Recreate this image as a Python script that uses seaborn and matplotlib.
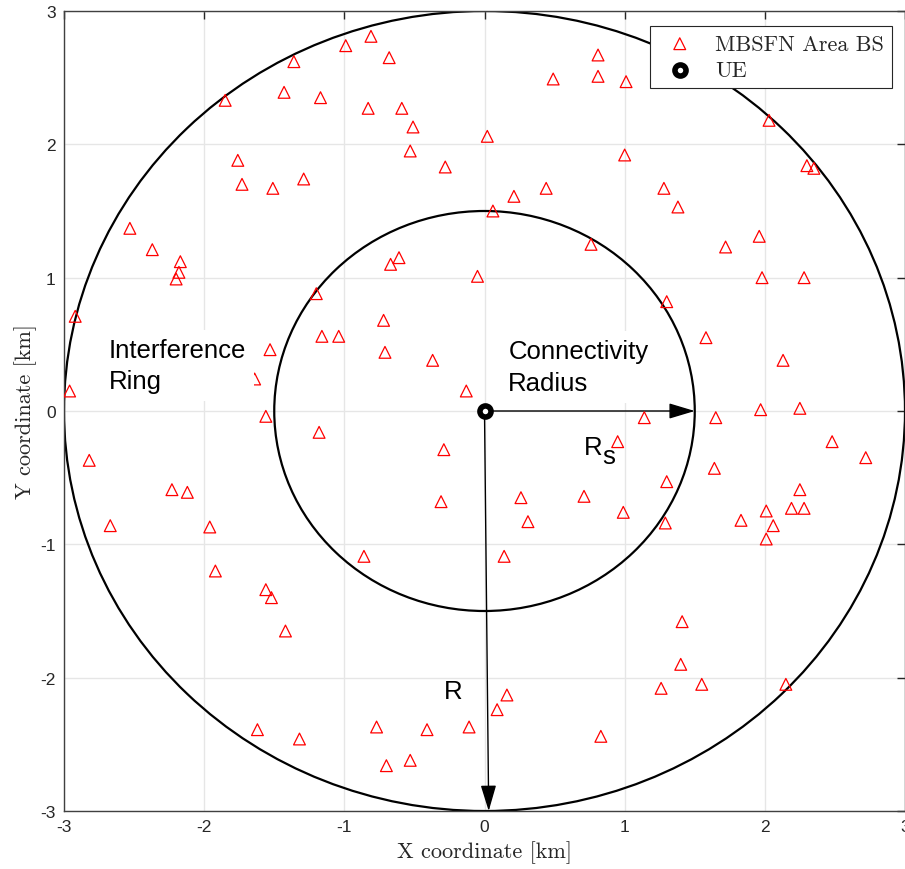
import numpy as np
import pandas as pd
import seaborn as sns
import matplotlib.pyplot as plt
from matplotlib.patches import Circle

# base station positions (km)
bs_x = [-0.81, -0.99, -0.68, -1.36, -1.43, -1.85, -1.17, -0.83, -0.59, -0.51, -0.53,
        -0.28, 0.02, -1.76, -1.73, -1.51, -1.29, -2.53, -2.37, -2.17, -2.18, -2.20,
        0.49, 0.81, 0.81, 1.01, 1.00, 1.28, 0.44, 0.21, 0.06, 0.76, 1.38, 1.72, 1.96,
        1.98, 2.30, 2.35, 2.03, 2.28,
        1.30, 1.58, 2.13, 1.97, 2.25, 2.48, 2.72, 1.65, 1.14, 0.95, 1.64, 1.30, 1.29,
        0.99, 1.83, 2.25, 2.19, 2.28, 2.01, 2.06, 2.01,
        1.41, 1.40, 1.55, 1.26, 2.15, 0.83,
        -1.20, -0.72, -1.16, -1.04, -1.53, -0.71, -0.37, -0.13, -0.05, -0.61, -0.67,
        -1.64, -1.56, -1.18, -0.29, -0.31, 0.26, 0.31, 0.71, 0.14, -0.86,
        -2.92, -2.96, -2.82, -2.67, -2.23, -2.12, -1.96, -1.92, -1.56, -1.52, -1.42,
        -1.62, -1.32,
        -0.77, -0.70, -0.53, -0.41, -0.11, 0.09, 0.16]
bs_y = [2.81, 2.74, 2.65, 2.62, 2.39, 2.33, 2.35, 2.27, 2.27, 2.13, 1.95,
        1.83, 2.06, 1.88, 1.70, 1.67, 1.74, 1.37, 1.21, 1.12, 1.04, 0.99,
        2.49, 2.51, 2.67, 2.47, 1.92, 1.67, 1.67, 1.61, 1.50, 1.25, 1.53, 1.23, 1.31,
        1.00, 1.84, 1.82, 2.18, 1.00,
        0.82, 0.55, 0.38, 0.01, 0.02, -0.23, -0.35, -0.05, -0.05, -0.23, -0.43, -0.53, -0.84,
        -0.76, -0.82, -0.59, -0.73, -0.73, -0.75, -0.86, -0.96,
        -1.58, -1.90, -2.05, -2.08, -2.05, -2.44,
        0.88, 0.68, 0.56, 0.56, 0.46, 0.44, 0.38, 0.15, 1.01, 1.15, 1.10,
        0.24, -0.04, -0.16, -0.29, -0.68, -0.65, -0.83, -0.64, -1.09, -1.09,
        0.71, 0.15, -0.37, -0.86, -0.59, -0.61, -0.87, -1.20, -1.34, -1.40, -1.65,
        -2.39, -2.46,
        -2.37, -2.66, -2.62, -2.39, -2.37, -2.24, -2.13]

ue_x = [0.0]
ue_y = [0.0]
R = 3.0     # interference ring radius
Rs = 1.5    # connectivity radius
r_arrow_end = (0.03, -R)
ticks = [-3, -2, -1, 0, 1, 2, 3]

df = pd.DataFrame({"x": bs_x, "y": bs_y})

sns.set_style("whitegrid")
plt.rcParams["font.family"] = ["Liberation Sans", "DejaVu Sans"]
plt.rcParams["axes.unicode_minus"] = False

fig = plt.figure(figsize=(9.05, 8.7), dpi=100)
ax = fig.add_axes([64 / 905, 58 / 870, 841 / 905, 800 / 870])

# rings
for rad in (R, Rs):
    ax.add_patch(Circle((0, 0), rad, fill=False, ec="black", lw=1.6, zorder=2))

# arrows
arrow_kw = dict(arrowstyle="-|>,head_length=0.8,head_width=0.24", color="black",
                lw=1.0, mutation_scale=20, shrinkA=0, shrinkB=0)
ax.annotate("", xy=(Rs, 0), xytext=(0, 0), arrowprops=arrow_kw, zorder=3)
ax.annotate("", xy=r_arrow_end, xytext=(0, 0), arrowprops=arrow_kw, zorder=3)

sns.scatterplot(data=df, x="x", y="y", marker="^", s=72, facecolor="none",
                edgecolor="red", linewidth=0.9, label="MBSFN Area BS", ax=ax, zorder=4)
ax.scatter(ue_x, ue_y, marker="o", s=64, facecolor="white", edgecolor="black",
           linewidth=4, label="UE", zorder=6)

# annotations
box = dict(facecolor="white", edgecolor="none", pad=6)
txt = dict(fontsize=18.5, color="black", zorder=5)
ax.text(-2.68, 0.34, "Interference\nRing", ha="left", va="center",
        linespacing=1.38, bbox=box, **txt)
ax.text(0.17, 0.33, "Connectivity\nRadius", ha="left", va="center",
        linespacing=1.38, bbox=box, **txt)
ax.text(0.71, -0.32, "R", ha="left", va="baseline", **txt)
ax.annotate("s", xy=(0.71, -0.32), xytext=(13, -7), textcoords="offset points",
            ha="left", va="baseline", **txt)
ax.text(-0.29, -2.15, "R", ha="left", va="baseline", **txt)

ax.set_xlim(-3, 3)
ax.set_ylim(-3, 3)
ax.set_xticks(ticks)
ax.set_yticks(ticks)
ax.grid(True, color="#e6e6e6", lw=1)
ax.set_axisbelow(True)
ax.tick_params(direction="in", length=6, width=1, top=True, right=True,
               labelsize=12.5, colors="#262626", pad=6)
for sp in ax.spines.values():
    sp.set_color("#404040")
    sp.set_linewidth(1)

ax.set_xlabel("X coordinate [km]", family="cmr10", fontsize=16, color="#262626", labelpad=4)
ax.set_ylabel("Y coordinate [km]", family="cmr10", fontsize=16, color="#262626", labelpad=2)

leg = ax.legend(loc="upper right", bbox_to_anchor=(0.9845, 0.981), borderaxespad=0,
                prop={"family": "cmr10", "size": 16}, fancybox=False, framealpha=1,
                edgecolor="#262626", handlelength=2.0, handletextpad=0.6,
                borderpad=0.35, labelspacing=0.3)
leg.get_frame().set_linewidth(0.8)

fig.savefig("out.png", dpi=100)
